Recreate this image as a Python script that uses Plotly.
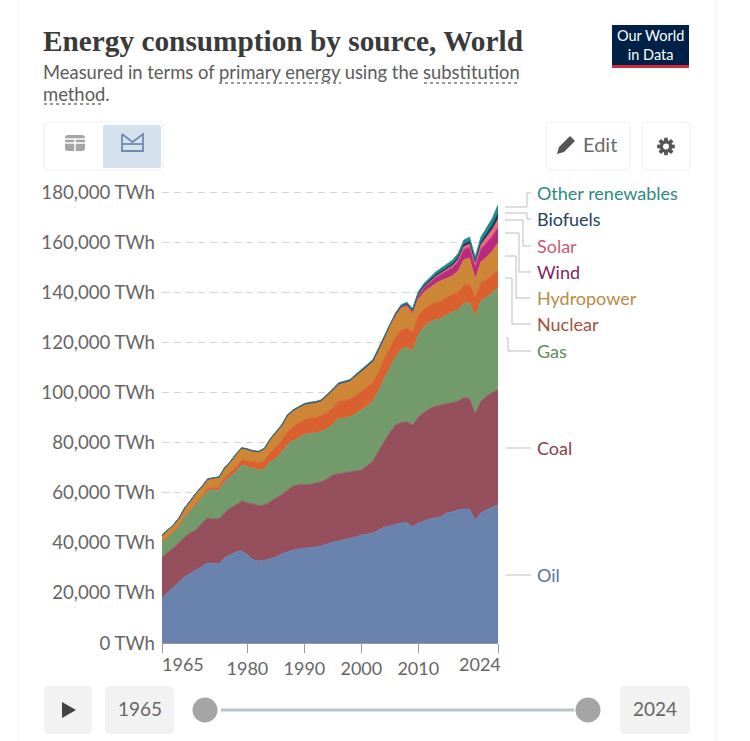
#! python3

import math
import plotly.graph_objects as go

W = 750
H = 741

years = list(range(1965, 2025))

# values in TWh, 1965 to 2024
oil = [18000, 20000, 22000, 24300, 26400, 27800, 29000, 30500, 31900, 31800,
       31500, 34000, 35200, 36300, 36700, 35200, 33200, 32700, 33000, 33500,
       34300, 35500, 36300, 37100, 37500, 37900, 38100, 38300, 38700, 39500,
       40300, 40600, 41100, 41500, 42300, 43100, 43500, 43900, 45000, 46300,
       46700, 47300, 47900, 48000, 46500, 47900, 48700, 49500, 49900, 50300,
       51900, 52300, 53100, 53500, 53500, 49100, 51900, 53100, 54300, 55100]
coal = [16300, 16000, 15900, 15800, 16000, 16200, 16100, 17400, 18000, 17700,
        18000, 17900, 18700, 18800, 20000, 20700, 22300, 22000, 22100, 22800,
        23600, 23600, 24800, 25600, 25600, 25200, 25200, 25600, 25600, 26000,
        26800, 26900, 26700, 26600, 26300, 25900, 27200, 28600, 31500, 34100,
        37300, 39700, 40100, 40300, 40500, 42100, 43300, 44000, 44600, 44700,
        43600, 43700, 43400, 44500, 44000, 42400, 44600, 45400, 45700, 45900]
gas = [5600, 6000, 6200, 6500, 7800, 8900, 10000, 10000, 10900, 11500,
       11500, 12600, 12600, 13200, 14300, 14400, 14000, 14300, 14400, 16000,
       15800, 16900, 18000, 18000, 18700, 20200, 20400, 19900, 20200, 20000,
       20100, 22000, 21900, 22200, 22900, 24000, 23800, 24000, 24000, 25100,
       26000, 27000, 29200, 29700, 29500, 33000, 34000, 34500, 34500, 34500,
       35500, 36000, 36500, 37500, 38200, 39000, 40000, 39500, 40000, 40700]
nuclear = [100, 150, 200, 250, 300, 350, 500, 650, 800, 1000,
           1300, 1500, 1800, 2000, 2100, 2300, 2700, 3000, 3300, 3800,
           4500, 4800, 5200, 5600, 5800, 5900, 6100, 6200, 6400, 6500,
           6700, 7000, 7000, 7100, 7400, 7500, 7600, 7700, 7500, 7800,
           7800, 7900, 7700, 7700, 7500, 7700, 7300, 6800, 6800, 6900,
           7000, 7100, 7100, 7300, 7500, 7200, 7400, 7000, 7100, 7300]
hydro = [3000, 2750, 2800, 3050, 3400, 3550, 4300, 3800, 3750, 3850,
         3850, 3850, 4050, 5050, 4700, 4700, 4400, 4300, 4800, 5200,
         5900, 5950, 6450, 6450, 6450, 6000, 5900, 6000, 5800, 6650,
         7050, 6850, 7200, 7200, 7700, 7800, 8200, 8000, 8650, 8100,
         8750, 8650, 8700, 8620, 7450, 6500, 6700, 6850, 7600, 8200,
         7600, 7500, 8400, 10200, 10400, 7600, 8200, 9000, 9300, 10700]
wind = [0, 0, 0, 0, 0, 0, 0, 0, 0, 0,
        0, 0, 0, 0, 0, 0, 0, 0, 0, 0,
        0, 0, 0, 10, 10, 10, 10, 20, 20, 30,
        30, 40, 50, 60, 80, 100, 100, 150, 200, 250,
        300, 400, 500, 600, 800, 1500, 1700, 2000, 2300, 2500,
        2900, 3200, 3600, 4000, 4300, 4500, 5000, 5600, 5900, 6000]
solar = [0, 0, 0, 0, 0, 0, 0, 0, 0, 0,
         0, 0, 0, 0, 0, 0, 0, 0, 0, 0,
         0, 0, 0, 0, 0, 0, 0, 0, 0, 0,
         0, 0, 0, 0, 0, 5, 5, 10, 10, 10,
         20, 20, 20, 30, 50, 100, 200, 300, 400, 500,
         600, 700, 900, 1100, 1300, 1500, 1800, 2200, 2700, 3300]
biofuels = [0, 0, 0, 0, 0, 0, 0, 0, 0, 0,
            10, 10, 10, 20, 20, 30, 30, 40, 40, 50,
            50, 50, 50, 50, 50, 100, 100, 100, 100, 100,
            100, 100, 100, 100, 100, 100, 100, 100, 150, 200,
            150, 200, 300, 400, 500, 600, 700, 750, 800, 800,
            800, 900, 1000, 1100, 1100, 1000, 1200, 1500, 1900, 2500]
other = [100, 100, 100, 100, 100, 100, 100, 150, 150, 150,
         150, 150, 150, 150, 200, 200, 200, 200, 200, 200,
         200, 250, 250, 250, 250, 300, 300, 300, 300, 350,
         350, 350, 400, 400, 400, 500, 500, 550, 600, 650,
         500, 550, 600, 650, 700, 800, 900, 1000, 1100, 1200,
         1300, 1400, 1500, 1600, 1700, 1700, 1900, 2200, 2600, 3300]

series_names = ["Oil", "Coal", "Gas", "Nuclear", "Hydropower", "Wind", "Solar", "Biofuels", "Other renewables"]
series_values = [oil, coal, gas, nuclear, hydro, wind, solar, biofuels, other]
fill_colors = ["#6a83ae", "#964f5d", "#729a6a", "#da6030", "#cd8636", "#bb2a80", "#f06880", "#143f5e", "#258a86"]
label_colors = ["#56749c", "#8a4048", "#5f8a58", "#a4533a", "#b98a44", "#7e1f5e", "#c85a74", "#1f3f60", "#2c8a80"]

y_ticks = [0, 20000, 40000, 60000, 80000, 100000, 120000, 140000, 160000, 180000]
y_tick_text = ["0 TWh", "20,000 TWh", "40,000 TWh", "60,000 TWh", "80,000 TWh", "100,000 TWh",
               "120,000 TWh", "140,000 TWh", "160,000 TWh", "180,000 TWh"]
x_ticks = [1965, 1980, 1990, 2000, 2010, 2024]
x_tick_text = ["", "1980", "1990", "2000", "2010", ""]


# pixel to paper coordinates, margins are all zero
def px(x):
    return x / W


def py(y):
    return 1 - y / H


def line(x0, y0, x1, y1, color, width=1, dash="solid"):
    return dict(type="line", xref="paper", yref="paper", x0=px(x0), y0=py(y0), x1=px(x1), y1=py(y1),
                line=dict(color=color, width=width, dash=dash))


def poly(points, fill=None, color=None, width=0, close=True):
    d = "M" + " L".join(f"{px(x):.5f},{py(y):.5f}" for x, y in points)
    if close:
        d += " Z"
    return dict(type="path", xref="paper", yref="paper", path=d, fillcolor=fill or "rgba(0,0,0,0)",
                line=dict(color=color or "rgba(0,0,0,0)", width=width))


def rrect(x0, y0, x1, y1, r, fill, border=None):
    d = (f"M{px(x0 + r):.5f},{py(y0):.5f} L{px(x1 - r):.5f},{py(y0):.5f} Q{px(x1):.5f},{py(y0):.5f} {px(x1):.5f},{py(y0 + r):.5f} "
         f"L{px(x1):.5f},{py(y1 - r):.5f} Q{px(x1):.5f},{py(y1):.5f} {px(x1 - r):.5f},{py(y1):.5f} "
         f"L{px(x0 + r):.5f},{py(y1):.5f} Q{px(x0):.5f},{py(y1):.5f} {px(x0):.5f},{py(y1 - r):.5f} "
         f"L{px(x0):.5f},{py(y0 + r):.5f} Q{px(x0):.5f},{py(y0):.5f} {px(x0 + r):.5f},{py(y0):.5f} Z")
    return dict(type="path", xref="paper", yref="paper", path=d, fillcolor=fill,
                line=dict(color=border or "rgba(0,0,0,0)", width=1))


def circle(cx, cy, r, fill):
    return dict(type="circle", xref="paper", yref="paper", x0=px(cx - r), x1=px(cx + r), y0=py(cy + r), y1=py(cy - r),
                fillcolor=fill, line=dict(width=0))


def text(x, y, s, size=18, color="#5b5b5b", anchor="left", family="Lato"):
    return dict(xref="paper", yref="paper", x=px(x), y=py(y), text=s, showarrow=False, xanchor=anchor, yanchor="middle",
                font=dict(family=family, size=size, color=color), borderpad=0, borderwidth=0)


fig = go.Figure()

for name, vals, col in zip(series_names, series_values, fill_colors):
    fig.add_trace(go.Scatter(x=years, y=vals, name=name, mode="lines", stackgroup="one",
                             line=dict(color=col, width=0.8), fillcolor=col, opacity=0.92,
                             showlegend=False, hoverinfo="skip"))

shapes = []
annots = []

# card edges
shapes.append(line(18, 0, 18, H, "#f3f3f3"))
shapes.append(line(716, 0, 716, H, "#f3f3f3"))

# header
annots.append(text(43, 41, "<b>Energy consumption by source, World</b>", size=29.3, color="#3a3a3a", family="Liberation Serif"))
annots.append(text(43, 72, "Measured in terms of primary energy using the substitution", size=18.4, color="#5b5b5b"))
annots.append(text(43, 94, "method.", size=18.4, color="#5b5b5b"))
shapes.append(line(219, 83, 341, 83, "#777", 1.5, "dot"))
shapes.append(line(424, 83, 519, 83, "#777", 1.5, "dot"))
shapes.append(line(44, 104, 104, 104, "#777", 1.5, "dot"))

# logo
shapes.append(dict(type="rect", xref="paper", yref="paper", x0=px(612), x1=px(689), y0=py(65), y1=py(25), fillcolor="#002147", line=dict(width=0)))
shapes.append(dict(type="rect", xref="paper", yref="paper", x0=px(612), x1=px(689), y0=py(68), y1=py(65), fillcolor="#ce2b3c", line=dict(width=0)))
annots.append(text(650.5, 45.5, "Our World<br>in Data", size=14.5, color="#ffffff", anchor="center"))

# chart / table toggle
shapes.append(rrect(44, 122, 163, 170, 5, "#ffffff", "#eeeeee"))
shapes.append(rrect(103, 125, 161, 168, 2, "#d6e1ee"))
shapes.append(rrect(65, 135, 85, 151, 3, "#a5a5a5"))
shapes.append(line(65, 143, 85, 143, "#ffffff", 1.5))
shapes.append(line(75, 139, 75, 151, "#ffffff", 1.5))
shapes.append(line(65, 139, 85, 139, "#ffffff", 1.5))
shapes.append(poly([(122, 134), (122, 151), (143, 151), (143, 134), (132.5, 142), (122, 134)], color="#6f8bb0", width=1.8, close=False))
shapes.append(line(122, 144, 143, 144, "#6f8bb0", 1.8))

# edit and settings buttons
shapes.append(rrect(546, 122, 630, 170, 5, "#ffffff", "#eeeeee"))
shapes.append(rrect(642, 122, 690, 170, 5, "#ffffff", "#eeeeee"))
shapes.append(poly([(557, 154), (559, 147), (570, 136), (575, 141), (564, 152)], fill="#555555"))
annots.append(text(583, 144, "Edit", size=20, color="#6a6a6a"))
gear = []
for i in range(8):
    a = i * math.pi / 4
    for da, r in [(-0.32, 6.2), (-0.2, 9), (0.2, 9), (0.32, 6.2)]:
        gear.append((666 + r * math.cos(a + da), 146.5 + r * math.sin(a + da)))
shapes.append(poly(gear, fill="#555555"))
shapes.append(circle(666, 146.5, 3, "#ffffff"))

# legend connectors
connectors = [
    [(505, 207), (527, 207), (527, 193), (531, 193)],
    [(505, 213), (527, 213), (527, 219), (531, 219)],
    [(505, 220), (523, 220), (523, 246), (531, 246)],
    [(505, 233), (519, 233), (519, 272), (531, 272)],
    [(505, 256), (516, 256), (516, 298), (531, 298)],
    [(505, 278), (512, 278), (512, 324), (531, 324)],
    [(506, 338), (508, 338), (508, 351), (531, 351)],
    [(506, 448), (531, 448)],
    [(506, 575), (531, 575)],
]
for pts in connectors:
    shapes.append(poly(pts, color="#bdbdbd", width=1, close=False))

label_y = [575, 448, 351, 324, 298, 272, 246, 219, 193]
for name, col, ly in zip(series_names, label_colors, label_y):
    annots.append(text(537, ly, name, color=col))

# first and last year labels sit inside the axis ends
annots.append(text(162, 664, "1965", color="#666666"))
annots.append(text(501, 664, "2024", color="#666666", anchor="right"))

# timeline controls
shapes.append(rrect(44, 686, 92, 734, 5, "#f2f2f2"))
shapes.append(poly([(62, 702), (76, 710), (62, 718)], fill="#444444"))
shapes.append(rrect(105, 686, 174, 734, 5, "#f2f2f2"))
annots.append(text(139.5, 708, "1965", size=19, color="#666666", anchor="center"))
shapes.append(rrect(620, 686, 690, 734, 5, "#f2f2f2"))
annots.append(text(655, 708, "2024", size=19, color="#666666", anchor="center"))
shapes.append(line(221, 710, 574, 710, "#b9c4c8", 3))
shapes.append(circle(205, 710, 12.5, "#a5a5a5"))
shapes.append(circle(588, 710, 12.5, "#a5a5a5"))

fig.update_layout(
    width=W,
    height=H,
    margin=dict(l=0, r=0, t=0, b=0),
    paper_bgcolor="#ffffff",
    plot_bgcolor="#ffffff",
    shapes=shapes,
    annotations=annots,
    font=dict(family="Lato", size=18, color="#666666"),
    xaxis=dict(domain=[px(162), px(498)], range=[1965, 2024], tickmode="array", tickvals=x_ticks, ticktext=x_tick_text,
               automargin=False, ticks="outside", ticklen=9, tickcolor="#999999", showline=True, linecolor="#999999",
               showgrid=False, zeroline=False, tickfont=dict(family="Lato", size=18, color="#666666")),
    # gridlines closer than 1px to the axis end get dropped, so leave some headroom
    yaxis=dict(domain=[py(643), py(190.5)], range=[0, 180600], tickmode="array", tickvals=y_ticks, ticktext=y_tick_text,
               automargin=False, showgrid=True, gridcolor="#d4d4d4", griddash="7px,5px", zeroline=False, showline=False,
               ticklabelstandoff=6, tickfont=dict(family="Lato", size=18.6, color="#666666")),
)

fig.write_html("out.html", config=dict(displayModeBar=False), post_script="document.body.style.margin='0';")
